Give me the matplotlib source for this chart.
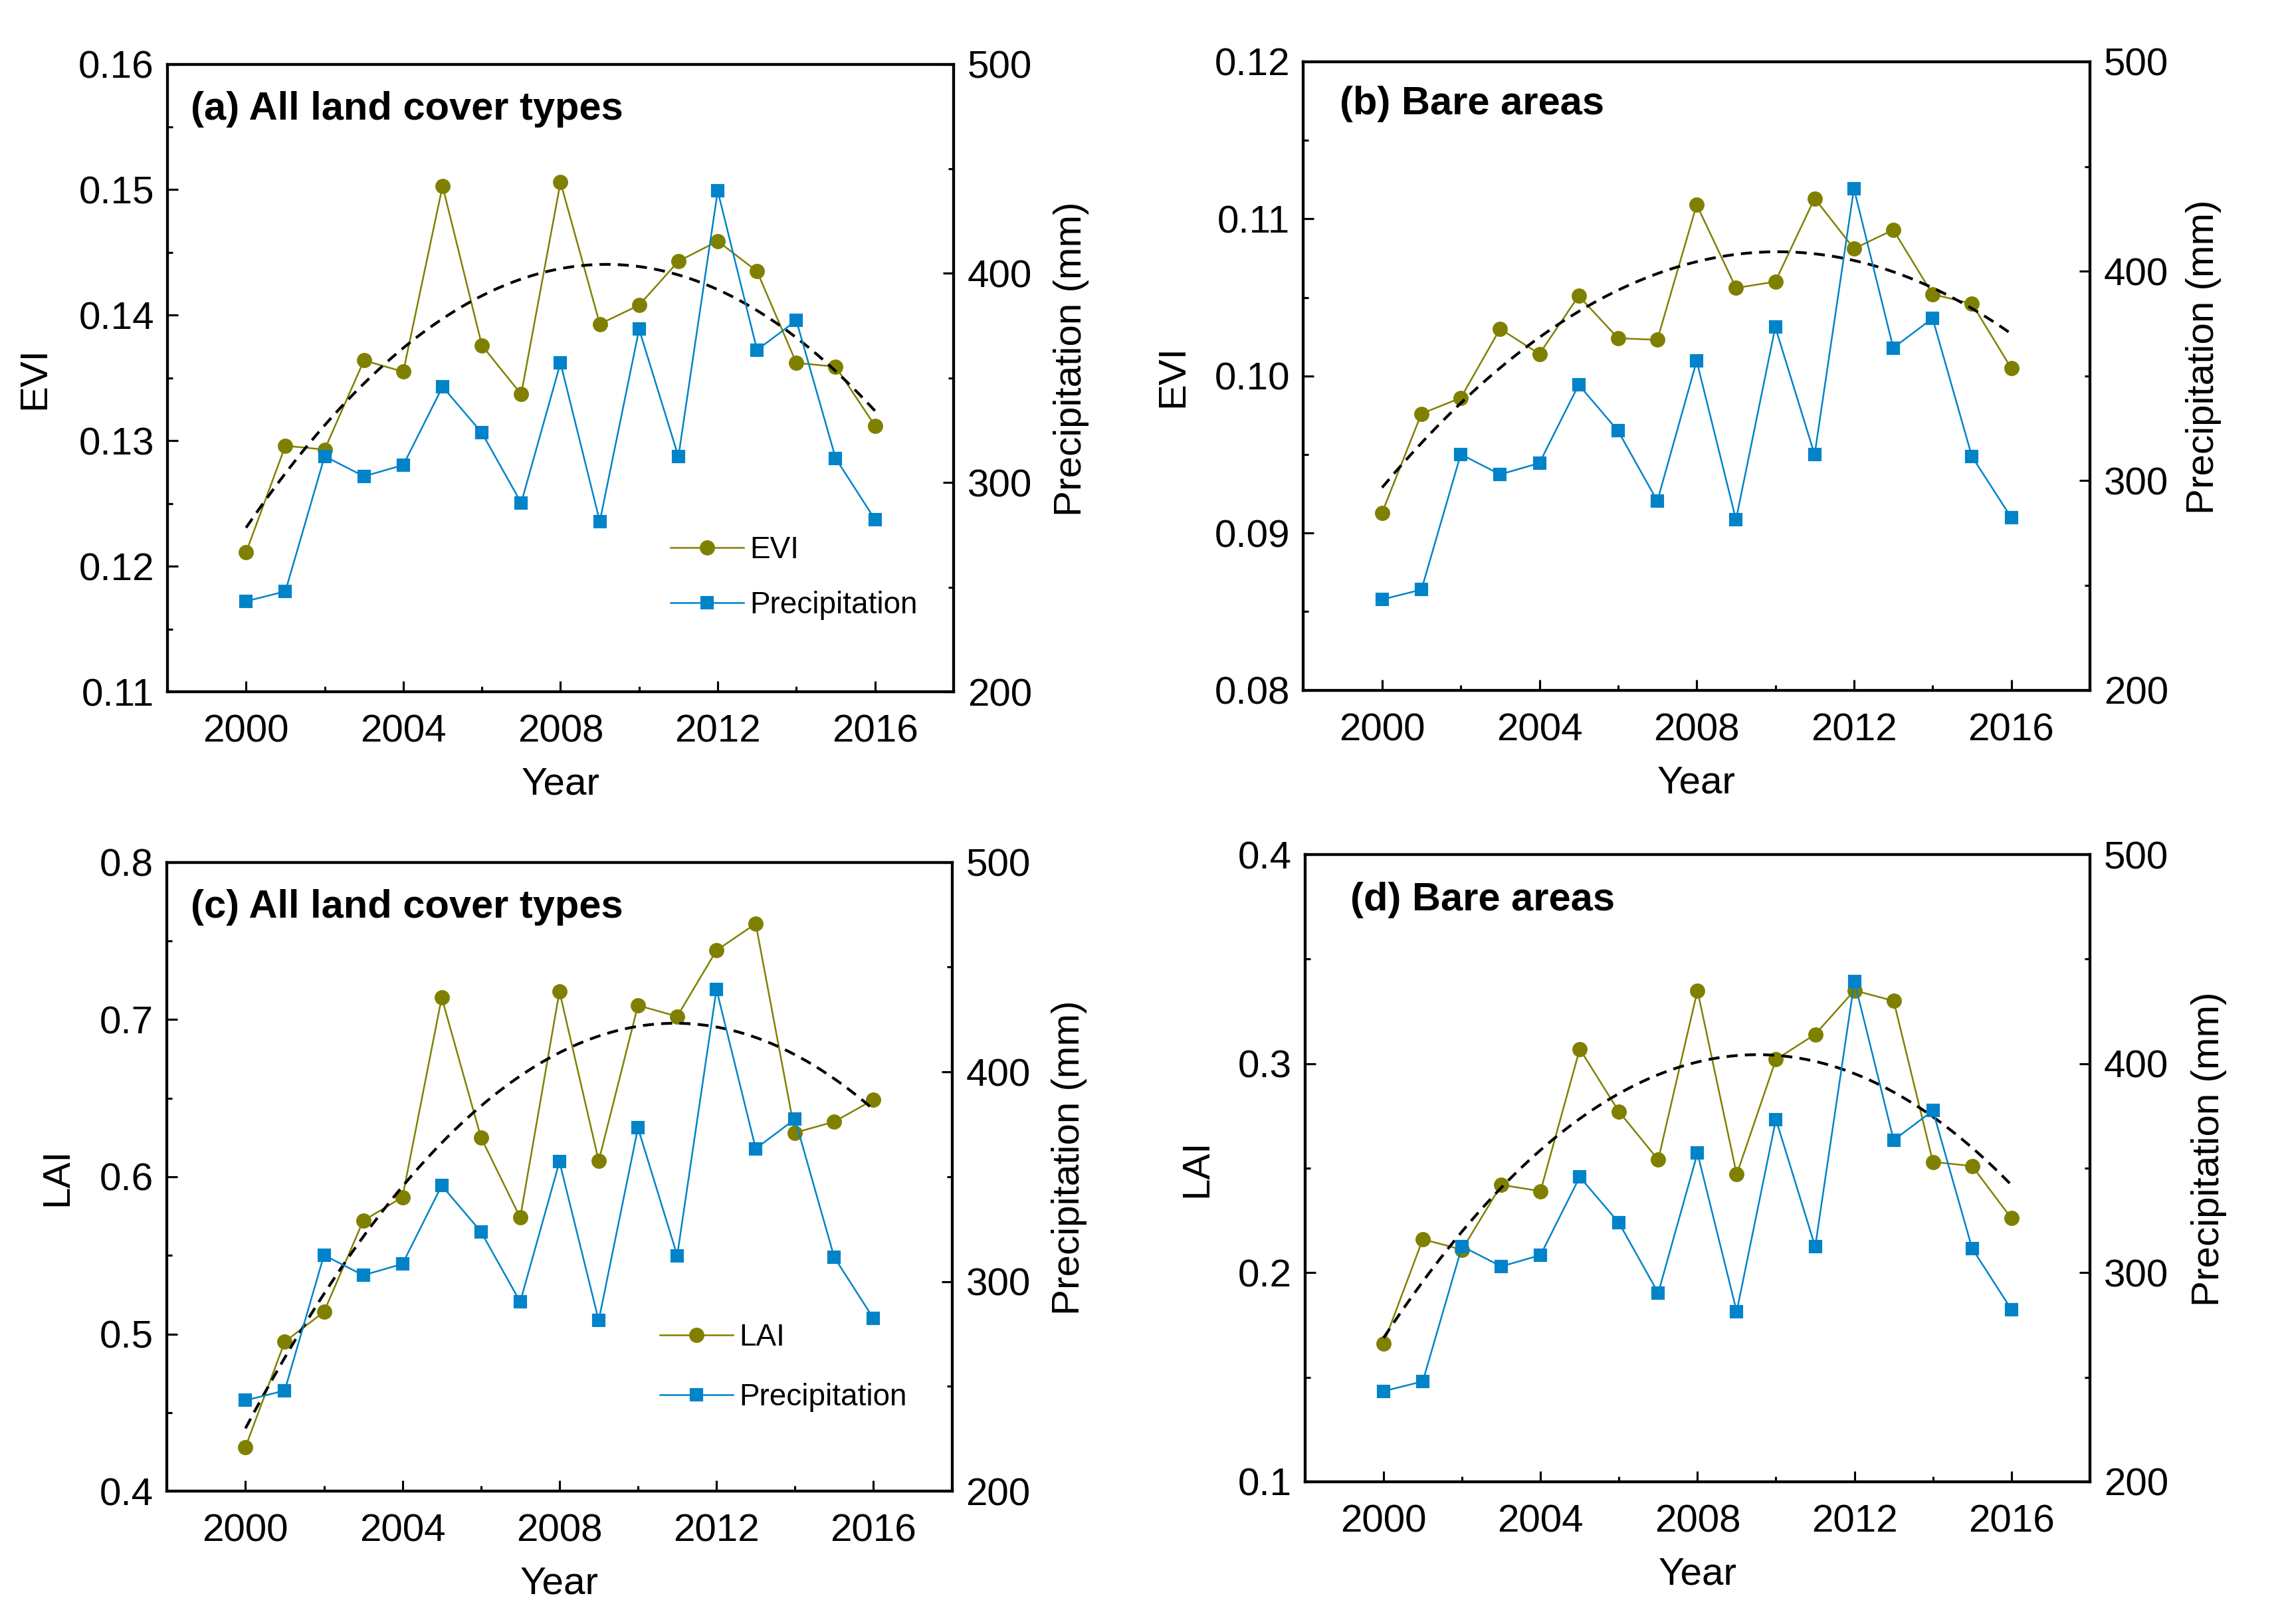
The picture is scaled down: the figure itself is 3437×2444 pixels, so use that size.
import matplotlib.pyplot as plt
import numpy as np
from matplotlib.ticker import FormatStrFormatter, MultipleLocator

plt.rcParams["font.family"] = ["Liberation Sans", "DejaVu Sans"]
plt.rcParams["font.size"] = 14

# Data
years = np.arange(2000, 2017)
precip = [243.3, 248.0, 312.6, 303.0, 308.4, 345.8, 323.8, 290.3, 357.2,
          281.4, 373.3, 312.4, 439.4, 363.4, 377.5, 311.6, 282.4]
evi_all = [0.1211, 0.1296, 0.1293, 0.1364, 0.1355, 0.1503, 0.1376, 0.1337, 0.1506,
           0.1393, 0.1408, 0.1443, 0.1459, 0.1435, 0.1362, 0.1359, 0.1312]
evi_bare = [0.0913, 0.0976, 0.0986, 0.1030, 0.1014, 0.1051, 0.1024, 0.1023, 0.1109,
            0.1056, 0.1060, 0.1113, 0.1081, 0.1093, 0.1052, 0.1046, 0.1005]
lai_all = [0.428, 0.495, 0.514, 0.572, 0.587, 0.714, 0.625, 0.574, 0.718,
           0.610, 0.709, 0.702, 0.744, 0.761, 0.628, 0.635, 0.649]
lai_bare = [0.166, 0.216, 0.211, 0.242, 0.239, 0.307, 0.277, 0.254, 0.335,
            0.247, 0.302, 0.314, 0.335, 0.330, 0.253, 0.251, 0.226]

OLIVE = "#808000"
BLUE = "#0083C9"


def style_ticks(ax, side):
    ax.tick_params(axis="both", which="both", direction="in", top=False,
                   left=(side == "left"), right=(side == "right"),
                   labelleft=(side == "left"), labelright=(side == "right"))
    ax.tick_params(which="major", length=3.8, width=0.75, pad=4.8)
    ax.tick_params(which="minor", length=2.0, width=0.75)


def draw_panel(fig, rect, values, name, title, ylim, major, fmt,
               title_xy, ylab_x, plab_x, legend_xy=None, legend_sp=0.9):
    ax = fig.add_axes(rect)
    ax2 = ax.twinx()

    ax.plot(years, values, color=OLIVE, lw=0.6, marker="o", ms=4.5, label=name)
    # quadratic fit of the vegetation index
    coef = np.polyfit(years - 2000, values, 2)
    xs = np.linspace(2000, 2016, 200)
    ax.plot(xs, np.polyval(coef, xs - 2000), color="black", lw=1.0,
            linestyle=(0, (4, 2.6)))
    ax2.plot(years, precip, color=BLUE, lw=0.6, marker="s", ms=4.0,
             label="Precipitation")

    ax.set_xlim(1998, 2018)
    ax.set_ylim(*ylim)
    ax2.set_ylim(200, 500)
    ax.xaxis.set_major_locator(MultipleLocator(4))
    ax.xaxis.set_minor_locator(MultipleLocator(2))
    ax.yaxis.set_major_locator(MultipleLocator(major))
    ax.yaxis.set_minor_locator(MultipleLocator(major / 2))
    ax.yaxis.set_major_formatter(FormatStrFormatter(fmt))
    ax2.yaxis.set_major_locator(MultipleLocator(100))
    ax2.yaxis.set_minor_locator(MultipleLocator(50))
    style_ticks(ax, "left")
    style_ticks(ax2, "right")
    ax.tick_params(axis="x", which="both", bottom=True)
    ax.tick_params(axis="x", which="major", pad=8)
    ax2.tick_params(axis="y", which="major", pad=5)

    for a in (ax, ax2):
        for sp in a.spines.values():
            sp.set_linewidth(1.0)

    ax.set_xlabel("Year", labelpad=6)
    ax.set_ylabel(name, va="center")
    ax.yaxis.set_label_coords(ylab_x, 0.5)
    ax2.set_ylabel("Precipitation (mm)", va="center", rotation=90)
    ax2.yaxis.set_label_coords(plab_x, 0.53)

    ax.text(title_xy[0], title_xy[1], title, transform=ax.transAxes,
            fontweight="bold", fontsize=14.3, ha="left", va="center")

    if legend_xy is not None:
        h1, l1 = ax.get_legend_handles_labels()
        h2, l2 = ax2.get_legend_handles_labels()
        ax2.legend(h1 + h2, l1 + l2, loc="center left", bbox_to_anchor=legend_xy,
                   frameon=False, fontsize=11, handlelength=2.4,
                   handletextpad=0.2, labelspacing=legend_sp,
                   borderpad=0, borderaxespad=0)
    return ax, ax2


fig = plt.figure(figsize=(3437 / 300, 2444 / 300), dpi=300)

draw_panel(fig, [0.0733, 0.574, 0.3442, 0.3865], evi_all, "EVI",
           "(a) All land cover types", (0.11, 0.16), 0.01, "%.2f",
           (0.03, 0.928), -0.169, 1.150, legend_xy=(0.64, 0.182), legend_sp=0.85)
draw_panel(fig, [0.5707, 0.575, 0.3443, 0.387], evi_bare, "EVI",
           "(b) Bare areas", (0.08, 0.12), 0.01, "%.2f",
           (0.046, 0.933), -0.166, 1.145)
draw_panel(fig, [0.0731, 0.0818, 0.3437, 0.3872], lai_all, "LAI",
           "(c) All land cover types", (0.4, 0.8), 0.1, "%.1f",
           (0.03, 0.928), -0.14, 1.149, legend_xy=(0.628, 0.197), legend_sp=1.0)
draw_panel(fig, [0.5714, 0.0876, 0.3436, 0.3862], lai_bare, "LAI",
           "(d) Bare areas", (0.1, 0.4), 0.1, "%.1f",
           (0.058, 0.927), -0.138, 1.152)

fig.savefig("out.png", dpi=300)
